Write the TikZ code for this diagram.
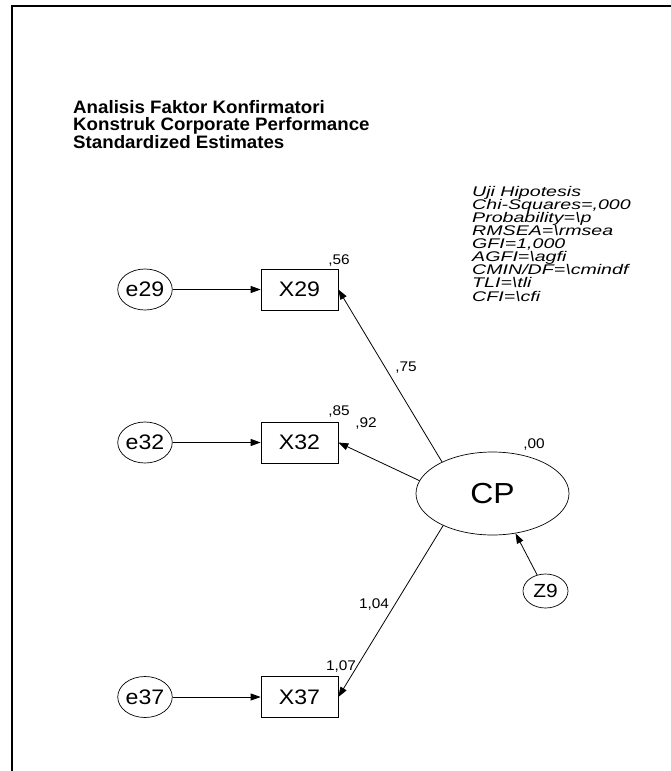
\documentclass[tikz,border=0pt]{standalone}
\usepackage{fontspec}
\setmainfont{Liberation Sans}
\newfontfamily\amos{Liberation Sans}[FakeStretch=1.1]
\newfontfamily\amostitle{Liberation Sans}[FakeStretch=1.04]
\newfontfamily\amosfit{Liberation Sans}[FakeStretch=1.4]
\usetikzlibrary{shapes.geometric,arrows.meta}
\begin{document}
\begin{tikzpicture}[x=1pt,y=-1pt,
    obsbox/.style={draw, line width=0.7pt, rectangle, minimum width=77pt, minimum height=41pt, inner sep=0pt, font=\amos\fontsize{21}{21}\selectfont},
    errcirc/.style={draw, line width=0.7pt, ellipse, minimum width=46pt, minimum height=41pt, inner sep=0pt, font=\amos\fontsize{21}{21}\selectfont},
    est/.style={inner sep=0pt, font=\amos\fontsize{14}{14}\selectfont},
    arr/.style={-{Triangle[length=10pt,width=7pt]}, line width=0.8pt}]
            \useasboundingbox (0,0) rectangle (671,771);
            \draw[line width=2pt] (12,771) -- (12,6) -- (671,6);
            % title and fit measures (anchored at the last baseline)
            \node[anchor=base west, align=left, inner sep=0pt, font=\amostitle\bfseries\fontsize{18}{16.5}\selectfont] (title) at (73,148) {Analisis Faktor Konfirmatori\\Konstruk Corporate Performance\\Standardized Estimates};
            \node[anchor=base west, align=left, inner sep=0pt, font=\amosfit\itshape\fontsize{14}{13.1}\selectfont] (fit) at (472,301) {Uji Hipotesis\\Chi-Squares=,000\\Probability=\textbackslash p\\RMSEA=\textbackslash rmsea\\GFI=1,000\\AGFI=\textbackslash agfi\\CMIN/DF=\textbackslash cmindf\\TLI=\textbackslash tli\\CFI=\textbackslash cfi};
            % indicators
            \node[obsbox] (x29) at (299.5,289.5) {X29};
            \node[obsbox] (x32) at (299.5,442.5) {X32};
            \node[obsbox] (x37) at (299.5,697) {X37};
            \node[errcirc] (e29) at (145,289.5) {e29};
            \node[errcirc] (e32) at (145,442.5) {e32};
            \node[errcirc] (e37) at (145,697) {e37};
            \node[draw, line width=0.7pt, ellipse, minimum width=153pt, minimum height=83pt, inner sep=0pt, font=\amos\fontsize{29}{29}\selectfont] (cp) at (492.5,493.5) {CP};
            \node[draw, line width=0.7pt, ellipse, minimum width=45pt, minimum height=34pt, inner sep=0pt, font=\amos\fontsize{19}{19}\selectfont] (z9) at (545.5,591) {Z9};
            \draw[arr] (e29) -- (x29);
            \draw[arr] (e32) -- (x32);
            \draw[arr] (e37) -- (x37);
            \draw[arr] (cp.148) -- (x29.east);
            \draw[arr] (cp.170) -- (x32.east);
            \draw[arr] (cp.213) -- (x37.east);
            \draw[arr] (z9) -- (cp.300);
            % estimates
            \node[est] (r29) at (339,261) {,56};
            \node[est] (r32) at (339,412) {,85};
            \node[est] (r37) at (341,666) {1,07};
            \node[est] (rcp) at (534,445) {,00};
            \node[est] (w29) at (406,368) {,75};
            \node[est] (w32) at (366,424) {,92};
            \node[est] (w37) at (374,604) {1,04};
        \end{tikzpicture}
\end{document}
